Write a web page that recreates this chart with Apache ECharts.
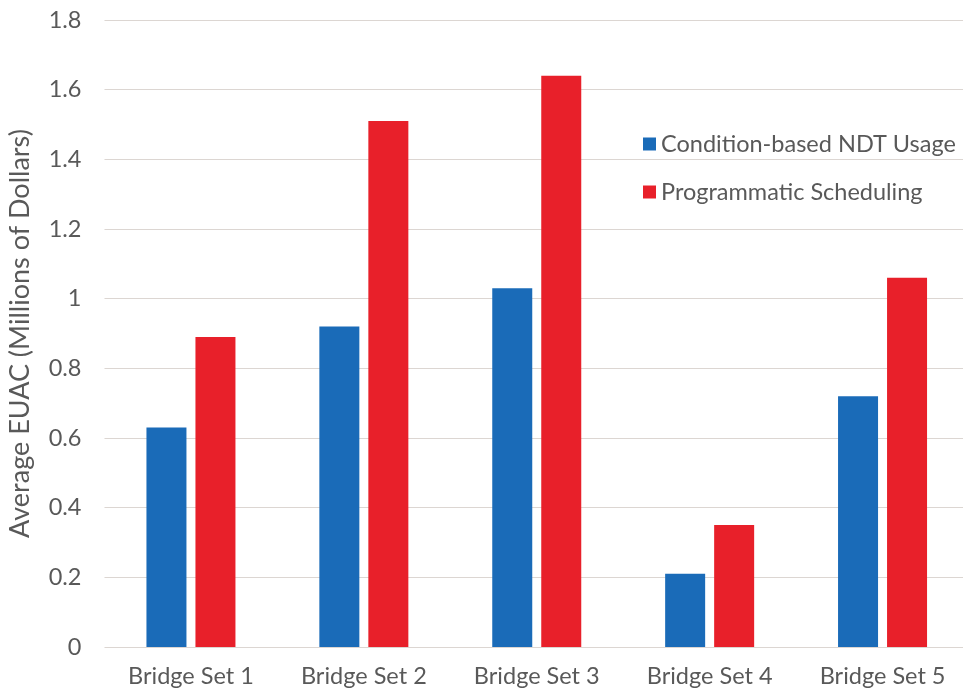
<!DOCTYPE html>
<html>
<head>
<meta charset="utf-8">
<script src="https://cdn.jsdelivr.net/npm/echarts@6/dist/echarts.min.js"></script>
<style>
  html, body { margin: 0; padding: 0; background: #ffffff; }
  #chart { width: 963px; height: 693px; }
</style>
</head>
<body>
<div id="chart"></div>
<script>
// Equivalent uniform annual cost per bridge set, in millions of dollars
const categories = ['Bridge Set 1', 'Bridge Set 2', 'Bridge Set 3', 'Bridge Set 4', 'Bridge Set 5'];
const conditionBased = [0.63, 0.92, 1.03, 0.21, 0.72];
const programmatic = [0.89, 1.51, 1.64, 0.35, 1.06];
const seriesNames = ['Condition-based NDT Usage', 'Programmatic Scheduling'];
const yTicks = { min: 0, max: 1.8, interval: 0.2 };

const FONT = 'Lato';
const TEXT = '#595959';

const chart = echarts.init(document.getElementById('chart'), null, { renderer: 'canvas' });
chart.setOption({
  backgroundColor: '#ffffff',
  animation: false,
  // the plot runs slightly past the right edge of the canvas
  grid: { left: 104.5, right: -6, top: 20, bottom: 46, outerBoundsMode: 'none', containLabel: false },
  legend: {
    orient: 'vertical',
    left: 638,
    top: 125,
    itemWidth: 13,
    itemHeight: 13,
    itemGap: 20,
    icon: 'rect',
    textStyle: { fontFamily: FONT, fontSize: 23.5, color: TEXT, lineHeight: 28 },
    data: seriesNames
  },
  xAxis: {
    type: 'category',
    data: categories,
    axisLine: { show: false },
    axisTick: { show: false },
    axisLabel: { fontFamily: FONT, fontSize: 23.5, color: TEXT, margin: 17 }
  },
  yAxis: {
    type: 'value',
    min: yTicks.min,
    max: yTicks.max,
    interval: yTicks.interval,
    name: 'Average EUAC (Millions of Dollars)',
    nameLocation: 'middle',
    nameGap: 71,
    nameTextStyle: { fontFamily: FONT, fontSize: 27, color: TEXT },
    axisLine: { show: false },
    axisTick: { show: false },
    axisLabel: {
      fontFamily: FONT, fontSize: 23.5, color: TEXT, margin: 23,
      formatter: v => String(Math.round(v * 10) / 10)
    },
    splitLine: { lineStyle: { color: '#dcd6d2', width: 1.2 } }
  },
  series: [
    {
      name: seriesNames[0],
      type: 'bar',
      data: conditionBased,
      barWidth: 40,
      barGap: '22.5%',
      itemStyle: { color: '#1a6bb8' }
    },
    {
      name: seriesNames[1],
      type: 'bar',
      data: programmatic,
      barWidth: 40,
      itemStyle: { color: '#e8202a' }
    }
  ]
});
</script>
</body>
</html>
